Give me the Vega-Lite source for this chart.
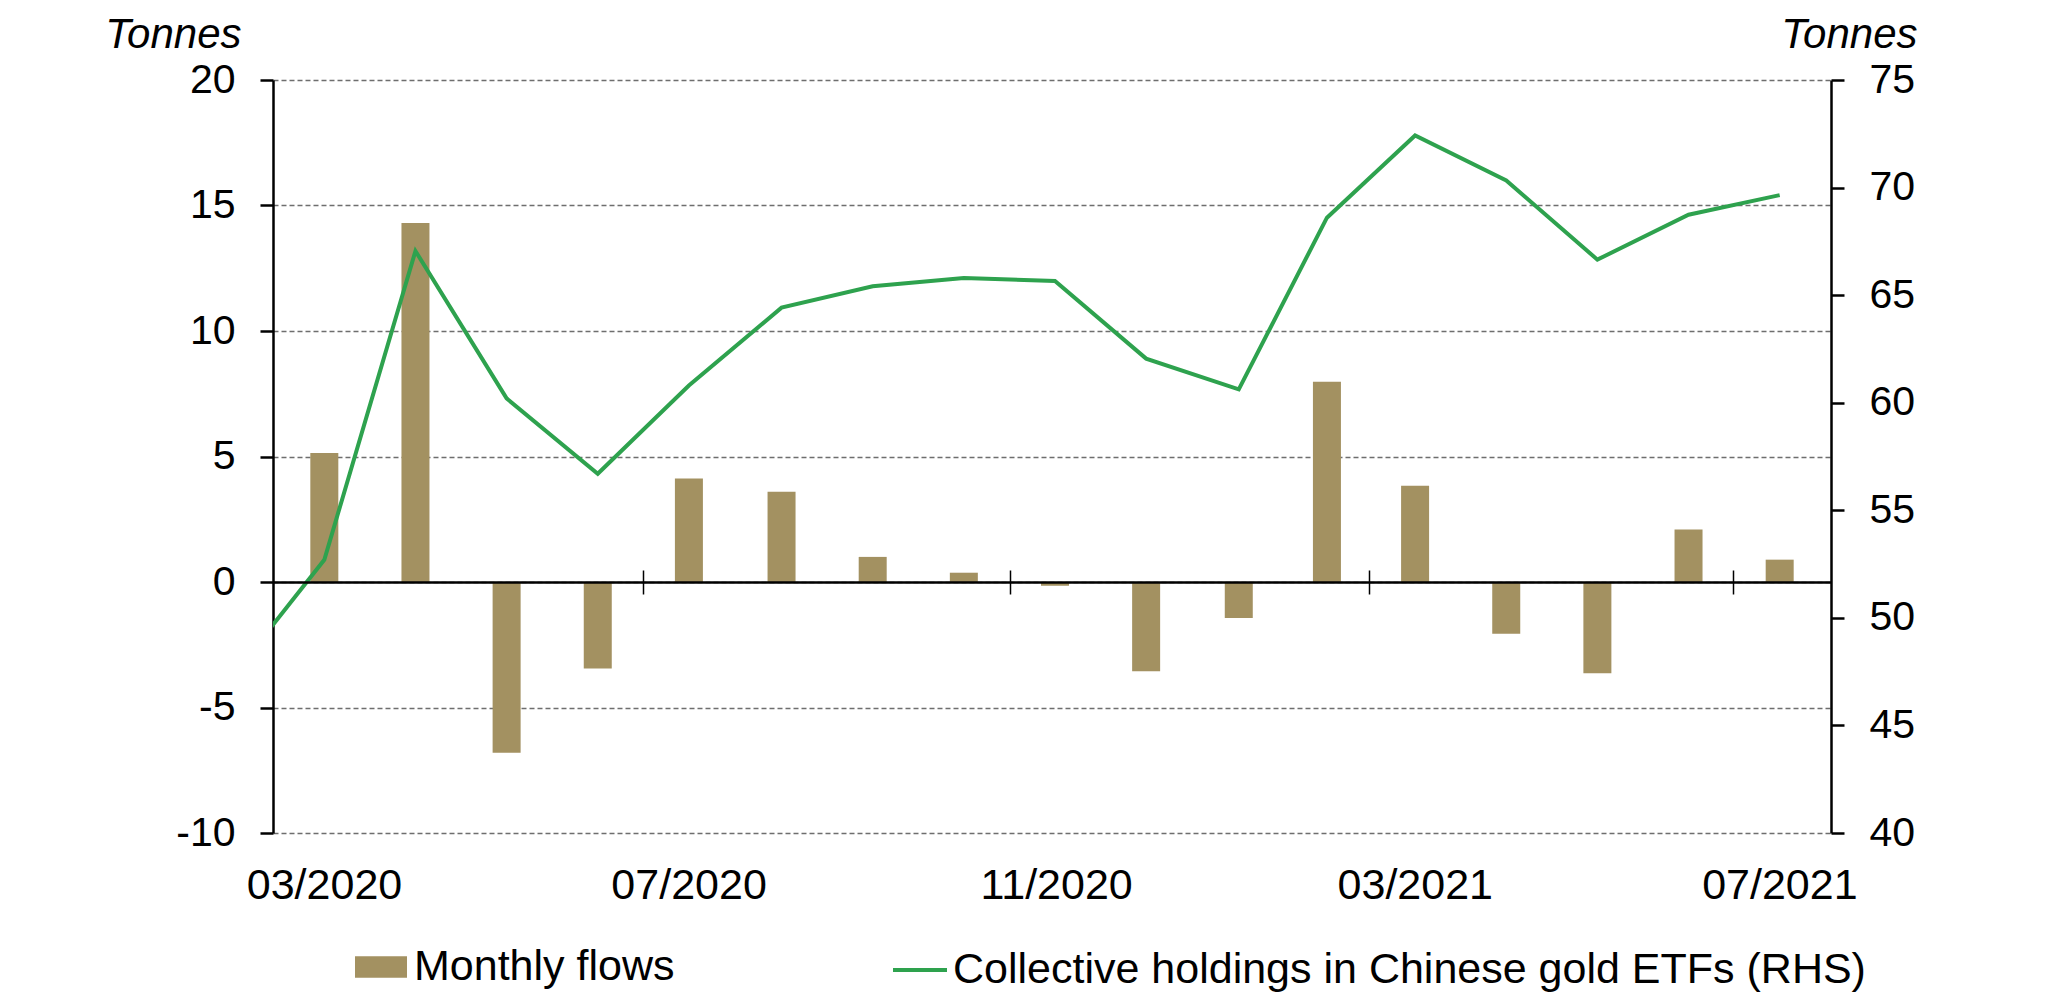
{
  "$schema": "https://vega.github.io/schema/vega-lite/v6.json",
  "width": 1558,
  "height": 753,
  "autosize": {"type": "none"},
  "padding": {"left": 273, "top": 80, "right": 230, "bottom": 166},
  "background": "white",
  "config": {
    "font": "Liberation Sans",
    "view": {"stroke": null},
    "axis": {"labelColor": "black", "titleColor": "black", "domainColor": "black", "tickColor": "black"},
    "legend": {"labelColor": "black"}
  },
  "datasets": {
    "flows": [
      {"date": "2020-03-16T12:00:00", "flow": 5.14},
      {"date": "2020-04-16T00:00:00", "flow": 14.3},
      {"date": "2020-05-16T12:00:00", "flow": -6.8},
      {"date": "2020-06-16T00:00:00", "flow": -3.45},
      {"date": "2020-07-16T12:00:00", "flow": 4.12},
      {"date": "2020-08-16T12:00:00", "flow": 3.6},
      {"date": "2020-09-16T00:00:00", "flow": 1.0},
      {"date": "2020-10-16T12:00:00", "flow": 0.37},
      {"date": "2020-11-16T00:00:00", "flow": -0.15},
      {"date": "2020-12-16T12:00:00", "flow": -3.56},
      {"date": "2021-01-16T12:00:00", "flow": -1.43},
      {"date": "2021-02-15T00:00:00", "flow": 7.98},
      {"date": "2021-03-16T12:00:00", "flow": 3.83},
      {"date": "2021-04-16T00:00:00", "flow": -2.06},
      {"date": "2021-05-16T12:00:00", "flow": -3.64},
      {"date": "2021-06-16T00:00:00", "flow": 2.09},
      {"date": "2021-07-16T12:00:00", "flow": 0.89}
    ],
    "holdings": [
      {"date": "2020-02-15T12:00:00", "holdings": 47.43},
      {"date": "2020-03-16T12:00:00", "holdings": 52.7},
      {"date": "2020-04-16T00:00:00", "holdings": 67.05},
      {"date": "2020-05-16T12:00:00", "holdings": 60.2},
      {"date": "2020-06-16T00:00:00", "holdings": 56.7},
      {"date": "2020-07-16T12:00:00", "holdings": 60.8},
      {"date": "2020-08-16T12:00:00", "holdings": 64.42},
      {"date": "2020-09-16T00:00:00", "holdings": 65.41},
      {"date": "2020-10-16T12:00:00", "holdings": 65.8},
      {"date": "2020-11-16T00:00:00", "holdings": 65.66},
      {"date": "2020-12-16T12:00:00", "holdings": 62.05},
      {"date": "2021-01-16T12:00:00", "holdings": 60.62},
      {"date": "2021-02-15T00:00:00", "holdings": 68.6},
      {"date": "2021-03-16T12:00:00", "holdings": 72.42},
      {"date": "2021-04-16T00:00:00", "holdings": 70.33},
      {"date": "2021-05-16T12:00:00", "holdings": 66.65},
      {"date": "2021-06-16T00:00:00", "holdings": 68.74},
      {"date": "2021-07-16T12:00:00", "holdings": 69.65}
    ]
  },
  "layer": [
    {
      "data": {"name": "flows"},
      "mark": {"type": "bar", "size": 28},
      "encoding": {
        "x": {
          "field": "date", "type": "temporal",
          "scale": {"domain": [{"year": 2020, "month": 3, "date": 1}, {"year": 2021, "month": 8, "date": 1}]},
          "axis": {
            "orient": "bottom",
            "values": [
              {"year": 2020, "month": 3, "date": 1},
              {"year": 2020, "month": 7, "date": 1},
              {"year": 2020, "month": 11, "date": 1},
              {"year": 2021, "month": 3, "date": 1},
              {"year": 2021, "month": 7, "date": 1}
            ],
            "format": "%m/%Y",
            "labelOffset": 46,
            "labelPadding": 31,
            "labelBaseline": "top",
            "labelFontSize": 43,
            "labelFlush": false,
            "labelOverlap": false,
            "ticks": false,
            "tickSize": 0,
            "domain": false,
            "grid": false,
            "title": null
          }
        },
        "y": {
          "field": "flow", "type": "quantitative",
          "scale": {"domain": [-10, 20], "nice": false, "zero": false},
          "axis": {
            "orient": "left",
            "values": [-10, -5, 0, 5, 10, 15, 20],
            "labelExpr": "datum.value < 0 ? '-' + abs(datum.value) : '' + datum.value",
            "grid": true,
            "gridDash": [5, 3],
            "gridColor": "#6e6e6e",
            "gridWidth": 1.5,
            "domainWidth": 2.5,
            "tickWidth": 2.5,
            "tickSize": 13,
            "labelFontSize": 41,
            "labelPadding": 25,
            "labelFlush": false,
            "title": "Tonnes",
            "titleAngle": 0,
            "titleX": -32,
            "titleY": -33,
            "titleAlign": "right",
            "titleBaseline": "alphabetic",
            "titleFontStyle": "italic",
            "titleFontWeight": "normal",
            "titleFontSize": 42
          }
        },
        "y2": {"datum": 0},
        "fill": {
          "datum": "Monthly flows", "type": "nominal",
          "scale": {"range": ["#a39161"]},
          "legend": {
            "orient": "none",
            "legendX": 82,
            "legendY": 861,
            "title": null,
            "padding": 0,
            "symbolType": "M-1,-0.41H1V0.41H-1Z",
            "symbolSize": 2704,
            "symbolStrokeWidth": 0,
            "symbolOpacity": 1,
            "labelFontSize": 43,
            "labelOffset": 7,
            "labelLimit": 1500
          }
        }
      }
    },
    {
      "data": {"name": "holdings"},
      "mark": {"type": "line", "strokeWidth": 4, "clip": true},
      "encoding": {
        "x": {
          "field": "date", "type": "temporal",
          "scale": {"domain": [{"year": 2020, "month": 3, "date": 1}, {"year": 2021, "month": 8, "date": 1}]},
          "axis": {
            "orient": "bottom",
            "offset": -251,
            "values": [
              {"year": 2020, "month": 7, "date": 1},
              {"year": 2020, "month": 11, "date": 1},
              {"year": 2021, "month": 3, "date": 1},
              {"year": 2021, "month": 7, "date": 1}
            ],
            "labels": false,
            "ticks": true,
            "tickSize": 12,
            "tickWidth": 1.5,
            "domain": true,
            "domainWidth": 2.5,
            "grid": false,
            "title": null,
            "zindex": 1
          }
        },
        "y": {
          "field": "holdings", "type": "quantitative",
          "scale": {"domain": [40, 75], "nice": false, "zero": false},
          "axis": {
            "orient": "right",
            "values": [40, 45, 50, 55, 60, 65, 70, 75],
            "grid": false,
            "domainWidth": 2.5,
            "tickWidth": 2.5,
            "tickSize": 13,
            "labelFontSize": 41,
            "labelPadding": 25,
            "labelFlush": false,
            "title": "Tonnes",
            "titleAngle": 0,
            "titleX": 86,
            "titleY": -33,
            "titleAlign": "right",
            "titleBaseline": "alphabetic",
            "titleFontStyle": "italic",
            "titleFontWeight": "normal",
            "titleFontSize": 42
          }
        },
        "stroke": {
          "datum": "Collective holdings in Chinese gold ETFs (RHS)", "type": "nominal",
          "scale": {"range": ["#2ea24e"]},
          "legend": {
            "orient": "none",
            "legendX": 618,
            "legendY": 861,
            "title": null,
            "padding": 0,
            "symbolType": "stroke",
            "symbolSize": 2916,
            "symbolStrokeWidth": 4,
            "labelFontSize": 43,
            "labelOffset": 4,
            "labelLimit": 1500
          }
        }
      }
    },
    {
      "data": {"name": "flows"},
      "mark": {"type": "rule", "opacity": 0},
      "encoding": {
        "x": {
          "field": "date", "type": "temporal",
          "scale": {"domain": [{"year": 2020, "month": 3, "date": 1}, {"year": 2021, "month": 8, "date": 1}]},
          "axis": {
            "orient": "top",
            "offset": -502,
            "values": [
              {"year": 2020, "month": 7, "date": 1},
              {"year": 2020, "month": 11, "date": 1},
              {"year": 2021, "month": 3, "date": 1},
              {"year": 2021, "month": 7, "date": 1}
            ],
            "labels": false,
            "ticks": true,
            "tickSize": 12,
            "tickWidth": 1.5,
            "domain": false,
            "grid": false,
            "title": null,
            "zindex": 1
          }
        }
      }
    }
  ],
  "resolve": {"scale": {"y": "independent"}, "axis": {"x": "independent", "y": "independent"}}
}
